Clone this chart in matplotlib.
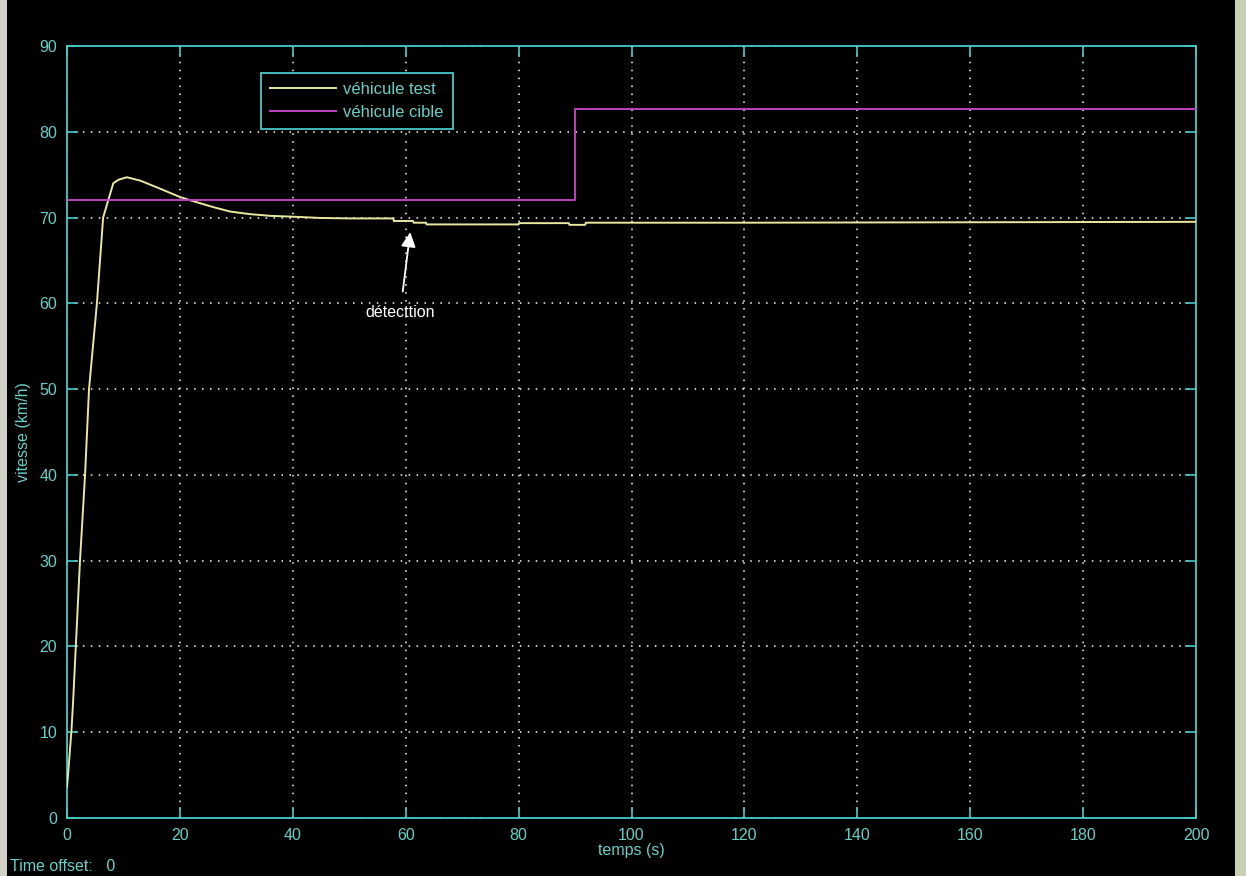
import matplotlib
matplotlib.use("Agg")
import matplotlib.pyplot as plt
from matplotlib.patches import Rectangle

# Speed of the test vehicle (km/h) over time (s)
t_test = [0, 0.3, 0.8, 1.1, 2.3, 3.2, 3.9, 5.3, 6.4, 7.3, 8.2, 9.1, 10.6, 13, 16,
          20, 22.4, 26, 28.9, 32.4, 36, 40, 45, 50, 55, 57.8, 57.9, 61.3, 61.4,
          63.6, 63.7, 80, 80.1, 88.9, 89.0, 91.8, 91.9, 120, 160, 200]
v_test = [3.6, 6.0, 10.3, 13.8, 30, 40, 50, 60, 70, 72, 74, 74.4, 74.7, 74.3, 73.5,
          72.4, 71.9, 71.2, 70.7, 70.4, 70.2, 70.1, 69.95, 69.9, 69.9, 69.9, 69.6, 69.6, 69.4,
          69.4, 69.2, 69.2, 69.35, 69.35, 69.15, 69.15, 69.4, 69.4, 69.45, 69.5]

# Speed of the target vehicle (km/h): step change at t = 90 s
t_cible = [0, 90, 90, 200]
v_cible = [72, 72, 82.7, 82.7]

x_ticks = list(range(0, 201, 20))
y_ticks = list(range(0, 91, 10))

legend_labels = ["véhicule test", "véhicule cible"]
annot_text = "détecttion"
annot_head = (60.8, 68.3)
annot_text_pos = (59.0, 58.9)

CYAN = "#48c8c8"
LABEL = "#66d0c8"
YELLOW = "#e8e8a0"
MAGENTA = "#c040c0"

plt.rcParams["font.family"] = ["Liberation Sans", "DejaVu Sans"]

fig = plt.figure(figsize=(12.46, 8.76), dpi=100, facecolor="black")
# window frame strips at the sides
fig.patches.append(Rectangle((0, 0), 7 / 1246, 1, transform=fig.transFigure,
                             facecolor="#d2d2c8", edgecolor="none", zorder=0))
fig.patches.append(Rectangle((1235 / 1246, 0), 11 / 1246, 1, transform=fig.transFigure,
                             facecolor="#c8d2b2", edgecolor="none", zorder=0))

ax = fig.add_axes([67 / 1246, 58 / 876, 1129 / 1246, 772 / 876], facecolor="black")

ax.plot(t_test, v_test, color=YELLOW, lw=1.4, label=legend_labels[0], zorder=3)
ax.plot(t_cible, v_cible, color=MAGENTA, lw=1.4, label=legend_labels[1], zorder=3)

ax.set_xlim(0, 200)
ax.set_ylim(0, 90)
ax.set_xticks(x_ticks)
ax.set_yticks(y_ticks)
ax.grid(True, color="white", lw=1.1, linestyle=(0, (1, 4.2)))
ax.tick_params(direction="in", length=8, width=1.2, color=CYAN, labelcolor=LABEL,
               labelsize=11.5, top=True, right=True, pad=7)
for s in ax.spines.values():
    s.set_color(CYAN)
    s.set_linewidth(1.3)

ax.set_xlabel("temps (s)", color=LABEL, fontsize=11.5, labelpad=0)
ax.set_ylabel("vitesse (km/h)", color=LABEL, fontsize=11.5, labelpad=6)

leg = ax.legend(loc="upper left", bbox_to_anchor=(0.1718, 0.965), borderaxespad=0,
                frameon=True, fancybox=False, fontsize=12, handlelength=3.95,
                handletextpad=0.42, labelspacing=0.48, borderpad=0.55)
leg.get_frame().set_facecolor("black")
leg.get_frame().set_edgecolor(CYAN)
leg.get_frame().set_linewidth(1.3)
leg.get_frame().set_alpha(1)
for txt in leg.get_texts():
    txt.set_color(LABEL)

ax.annotate(annot_text, xy=annot_head, xytext=annot_text_pos, color="white",
            fontsize=11.5, ha="center", va="center",
            arrowprops=dict(arrowstyle="-|>", color="white", lw=1.3,
                            mutation_scale=22, shrinkA=8, shrinkB=0))

fig.text(10 / 1246, 2 / 876, "Time offset:   0", color=LABEL, fontsize=11.5,
         ha="left", va="bottom")

fig.savefig("out.png", dpi=100, facecolor="black")
